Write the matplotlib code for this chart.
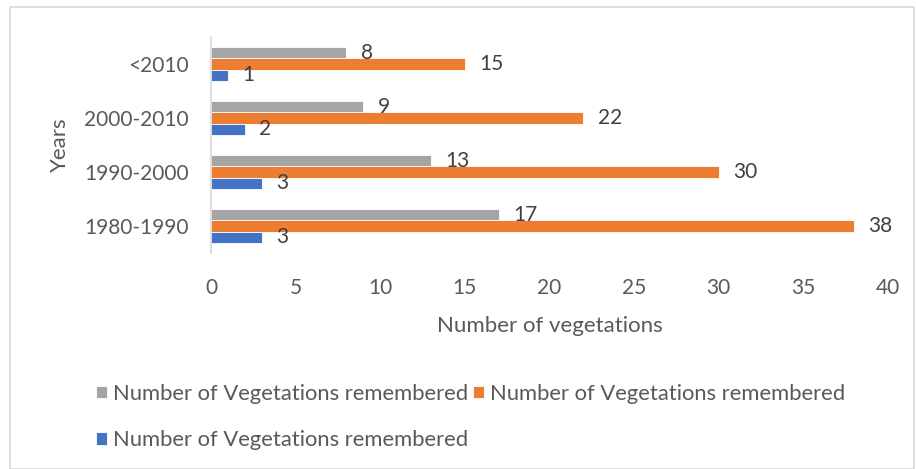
import matplotlib.pyplot as plt
import numpy as np
from matplotlib.patches import Rectangle

# data, bottom to top as drawn
years = ["1980-1990", "1990-2000", "2000-2010", "<2010"]
gray_vals = [17, 13, 9, 8]
orange_vals = [38, 30, 22, 15]
blue_vals = [3, 3, 2, 1]
legend_label = "Number of Vegetations remembered"

GRAY = "#a5a5a5"
ORANGE = "#ed7d31"
BLUE = "#4472c4"
TXT = "#595959"

plt.rcParams["font.family"] = ["Lato", "DejaVu Sans"]

fig = plt.figure(figsize=(9.16, 4.69), dpi=100)
ax = fig.add_axes([211 / 916, 1 - 253 / 469, 677 / 916, 216 / 469])

y = np.arange(len(years))
h = 0.205
bars = [
    (gray_vals, h, GRAY),
    (orange_vals, 0.0, ORANGE),
    (blue_vals, -h, BLUE),
]
handles = []
for vals, off, col in bars:
    b = ax.barh(y + off, vals, height=h, color=col, edgecolor="white", linewidth=0.6, label=legend_label)
    handles.append(b)
    for yi, v in zip(y, vals):
        ax.text(v + 0.85, yi + off, str(v), va="center", ha="left", fontsize=15, color="#404040")

ax.set_xlim(0, 40)
ax.set_ylim(-0.5, len(years) - 0.5)
ax.set_yticks(y)
ax.set_yticklabels(years, fontsize=15, color=TXT)
ax.set_xticks(np.arange(0, 41, 5))
ax.tick_params(axis="x", labelsize=15, labelcolor=TXT, length=0, pad=18)
ax.tick_params(axis="y", length=0, pad=16)
for s in ["top", "right", "bottom"]:
    ax.spines[s].set_visible(False)
ax.spines["left"].set_color("#d9d9d9")
ax.spines["left"].set_linewidth(1.2)
ax.set_xlabel("Number of vegetations", fontsize=16, color=TXT, labelpad=13)
ax.set_ylabel("Years", fontsize=16, color=TXT, labelpad=10)

# column-major fill: gray, blue in column one; orange in column two
order = [0, 2, 1]
fig.legend(
    [handles[i] for i in order],
    [legend_label] * 3,
    loc="upper left",
    bbox_to_anchor=(76 / 916, 1 - 364 / 469),
    ncol=2,
    frameon=False,
    fontsize=15.8,
    labelcolor=TXT,
    handlelength=0.5,
    handleheight=0.5,
    handletextpad=0.3,
    columnspacing=0.2,
    labelspacing=1.2,
)

fig.patches.append(Rectangle((10 / 916, 0), 904 / 916, 1 - 7 / 469, transform=fig.transFigure,
                             fill=False, edgecolor="#d9d9d9", linewidth=1.2))

fig.savefig("out.png", dpi=100, facecolor="white")
